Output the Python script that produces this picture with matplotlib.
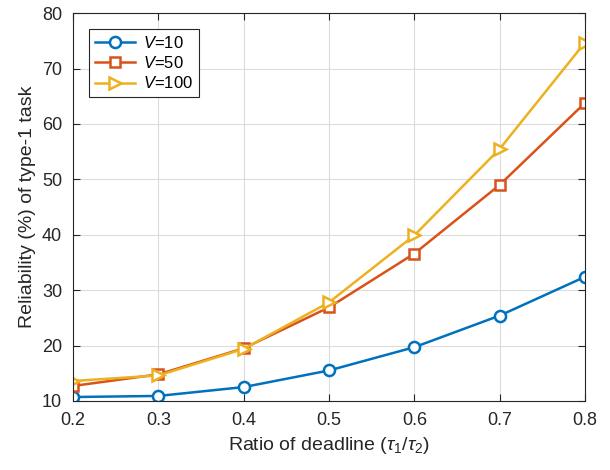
import matplotlib
matplotlib.use('Agg')
import matplotlib.pyplot as plt

plt.rcParams['font.family'] = ['Liberation Sans', 'DejaVu Sans']
plt.rcParams['mathtext.fontset'] = 'custom'
plt.rcParams['mathtext.it'] = 'Liberation Sans:italic'
plt.rcParams['mathtext.rm'] = 'Liberation Sans'

ratio = [0.2, 0.3, 0.4, 0.5, 0.6, 0.7, 0.8]
v10 = [10.7, 10.9, 12.5, 15.5, 19.7, 25.4, 32.4]
v50 = [12.7, 14.8, 19.5, 26.9, 36.6, 49.0, 63.8]
v100 = [13.6, 14.6, 19.4, 27.8, 39.9, 55.5, 74.7]

fig = plt.figure(figsize=(6.1, 4.7), dpi=100)
ax = fig.add_axes([0.12, 0.147, 0.839, 0.825])

ax.plot(ratio, v10, '-o', color='#0072BD', lw=1.8, ms=8, mfc='white', mew=1.8, label='$V$=10')
ax.plot(ratio, v50, '-s', color='#D95319', lw=1.8, ms=7, mfc='white', mew=1.8, label='$V$=50')
ax.plot(ratio, v100, '->', color='#EDB120', lw=1.8, ms=9, mfc='white', mew=1.8, label='$V$=100')

ax.set_xlim(0.2, 0.8)
ax.set_ylim(10, 80)
ax.set_xticks(ratio)
ax.set_xticklabels(['0.2', '0.3', '0.4', '0.5', '0.6', '0.7', '0.8'])
ax.set_yticks(range(10, 81, 10))
ax.grid(True, color='#dcdcdc', lw=0.8)
ax.set_axisbelow(True)
ax.tick_params(direction='in', top=True, right=True, labelsize=13, length=5, colors='#262626')
ax.tick_params(axis='x', pad=8)
ax.tick_params(axis='y', pad=8)
for s in ax.spines.values():
    s.set_color('#262626')
    s.set_linewidth(0.8)

ax.set_xlabel(r'Ratio of deadline ($\tau_1/\tau_2$)', fontsize=14, color='#262626')
ax.set_ylabel('Reliability (%) of type-1 task', fontsize=14, color='#262626')

leg = ax.legend(loc='upper left', bbox_to_anchor=(0.015, 0.98), fontsize=12, fancybox=False,
                framealpha=1, edgecolor='#262626', handlelength=2.4, borderpad=0.35,
                labelspacing=0.25, handletextpad=0.5)
leg.get_frame().set_linewidth(0.8)

fig.savefig('out.png', dpi=100)
